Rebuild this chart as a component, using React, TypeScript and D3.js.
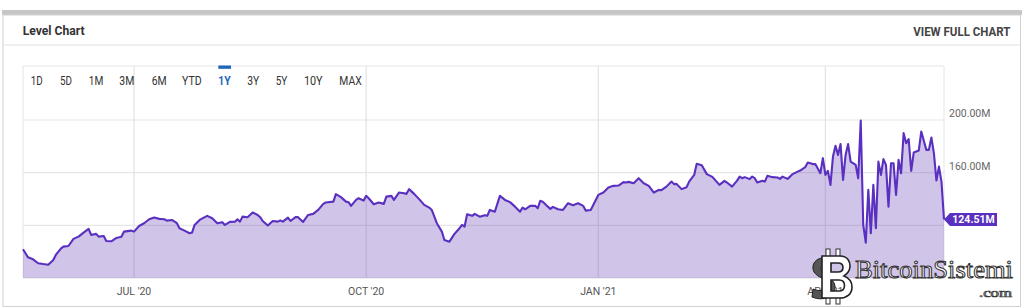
import React from "react";
import * as d3 from "d3";

const dates: string[] = [
  "2020-05-18","2020-05-20","2020-05-22","2020-05-24","2020-05-26","2020-05-28","2020-05-30","2020-05-31",
  "2020-06-02","2020-06-03","2020-06-05","2020-06-07","2020-06-09","2020-06-11","2020-06-13","2020-06-14",
  "2020-06-16","2020-06-17","2020-06-19","2020-06-20","2020-06-22","2020-06-24","2020-06-26","2020-06-27",
  "2020-06-30","2020-07-01","2020-07-03","2020-07-05","2020-07-07","2020-07-09","2020-07-11","2020-07-13",
  "2020-07-14","2020-07-16","2020-07-18","2020-07-19","2020-07-21","2020-07-23","2020-07-24","2020-07-25",
  "2020-07-27","2020-07-30","2020-08-01","2020-08-03","2020-08-05","2020-08-06","2020-08-08","2020-08-10",
  "2020-08-11","2020-08-12","2020-08-13","2020-08-15","2020-08-17","2020-08-19","2020-08-20","2020-08-21",
  "2020-08-23","2020-08-25","2020-08-27","2020-08-28","2020-08-29","2020-08-31","2020-09-01","2020-09-03",
  "2020-09-04","2020-09-06","2020-09-08","2020-09-10","2020-09-12","2020-09-14","2020-09-15","2020-09-18",
  "2020-09-19","2020-09-21","2020-09-23","2020-09-24","2020-09-25","2020-09-27","2020-09-28","2020-09-30",
  "2020-10-01","2020-10-02","2020-10-04","2020-10-06","2020-10-08","2020-10-09","2020-10-11","2020-10-12",
  "2020-10-14","2020-10-16","2020-10-17","2020-10-18","2020-10-20","2020-10-22","2020-10-24","2020-10-26",
  "2020-10-27","2020-10-29","2020-10-31","2020-11-01","2020-11-03","2020-11-05","2020-11-07","2020-11-08",
  "2020-11-09","2020-11-10","2020-11-12","2020-11-13","2020-11-15","2020-11-17","2020-11-18","2020-11-19",
  "2020-11-21","2020-11-23","2020-11-25","2020-11-27","2020-11-29","2020-12-01","2020-12-02","2020-12-03",
  "2020-12-05","2020-12-07","2020-12-08","2020-12-09","2020-12-10","2020-12-12","2020-12-13","2020-12-14",
  "2020-12-16","2020-12-18","2020-12-20","2020-12-22","2020-12-24","2020-12-26","2020-12-27","2020-12-29",
  "2020-12-30","2021-01-01","2021-01-03","2021-01-05","2021-01-07","2021-01-09","2021-01-11","2021-01-12",
  "2021-01-13","2021-01-15","2021-01-17","2021-01-19","2021-01-21","2021-01-23","2021-01-25","2021-01-26",
  "2021-01-28","2021-01-30","2021-01-31","2021-02-01","2021-02-03","2021-02-05","2021-02-06","2021-02-08",
  "2021-02-09","2021-02-11","2021-02-13","2021-02-15","2021-02-16","2021-02-18","2021-02-20","2021-02-21",
  "2021-02-23","2021-02-25","2021-02-26","2021-02-27","2021-02-28","2021-03-02","2021-03-03","2021-03-04",
  "2021-03-05","2021-03-07","2021-03-08","2021-03-09","2021-03-11","2021-03-13","2021-03-14","2021-03-15",
  "2021-03-17","2021-03-18","2021-03-19","2021-03-21","2021-03-22","2021-03-24","2021-03-25","2021-03-27",
  "2021-03-28","2021-03-30","2021-03-31","2021-04-01","2021-04-02","2021-04-03","2021-04-04","2021-04-05",
  "2021-04-06","2021-04-07","2021-04-08","2021-04-09","2021-04-10","2021-04-11","2021-04-13","2021-04-14",
  "2021-04-15","2021-04-16","2021-04-17","2021-04-18","2021-04-19","2021-04-20","2021-04-21","2021-04-22",
  "2021-04-23","2021-04-24","2021-04-25","2021-04-26","2021-04-27","2021-04-28","2021-04-29","2021-04-30",
  "2021-05-01","2021-05-02","2021-05-03","2021-05-04","2021-05-05","2021-05-06","2021-05-08","2021-05-09",
  "2021-05-10","2021-05-11","2021-05-12","2021-05-13","2021-05-14","2021-05-15","2021-05-16","2021-05-17",
  "2021-05-18",
];

const values: number[] = [
  101.8,95.7,94.2,91.2,90.6,90.1,93.7,97.5,
  102.3,103.8,104.3,109.7,111.4,114.5,117.3,112.7,
  113.5,111.4,111.9,108.1,107.9,110.4,111.4,115.2,
  116.0,115.2,119.5,121.6,124.6,125.9,124.9,124.6,
  123.6,124.1,121.6,117.8,116.0,114.0,114.5,120.3,
  124.1,127.2,125.4,121.6,122.4,120.3,122.6,122.8,
  124.6,122.8,126.6,126.2,129.7,127.9,126.2,123.3,
  119.8,123.3,122.8,123.6,122.8,125.9,123.3,126.2,
  126.2,122.6,127.9,128.7,131.7,136.3,137.3,138.0,
  143.7,141.4,138.0,137.6,134.8,139.3,140.6,138.8,
  142.4,140.6,136.0,137.3,136.3,141.8,142.4,139.3,
  144.9,144.4,143.9,147.5,143.9,139.9,135.5,133.5,
  131.7,121.6,115.2,108.9,107.6,113.5,117.8,120.3,
  119.0,128.4,127.2,128.7,126.6,127.7,127.2,131.7,
  130.4,142.4,139.3,137.6,134.2,130.4,133.5,132.2,
  134.8,134.8,133.0,138.6,138.0,134.2,132.5,134.0,
  132.2,131.7,136.8,135.3,136.8,134.8,131.2,131.7,
  135.5,143.1,144.9,148.7,150.0,150.2,152.8,152.5,
  153.0,152.0,155.8,152.0,150.0,144.9,146.9,146.7,
  149.4,153.2,151.3,151.5,147.5,149.0,153.2,158.3,
  166.7,165.7,158.9,157.0,155.1,150.7,153.8,152.5,
  149.4,154.0,157.0,155.8,156.6,155.1,157.0,155.8,
  152.5,153.8,153.2,157.6,156.6,156.3,155.3,157.0,
  155.3,157.0,158.9,160.8,161.6,164.2,167.7,166.5,
  166.5,159.6,171.0,158.3,161.4,150.7,172.2,180.4,
  173.5,181.7,154.5,173.5,181.7,168.4,165.9,155.8,
  199.6,120.3,106.8,146.9,114.0,150.7,117.8,168.4,
  158.3,170.3,165.9,134.2,167.2,167.2,143.1,169.7,
  159.6,190.0,182.4,185.5,161.4,175.3,176.8,191.3,
  184.2,177.3,177.3,186.7,174.8,154.0,164.6,153.2,
  124.51,
];

const rangeButtons: string[] = ["1D","5D","1M","3M","6M","YTD","1Y","3Y","5Y","10Y","MAX"];
const activeButton = "1Y";
const xTickDates: string[] = ["2020-07-01","2020-10-01","2021-01-01","2021-04-01"];
const xTickLabels: string[] = ["JUL '20","OCT '20","JAN '21","APR '21"];
const yGridValues: number[] = [120, 160, 200];
const yLabelValues: number[] = [160, 200];
const lastLabel = "124.51M";

const parse = d3.timeParse("%Y-%m-%d");

export default function App() {
  const data = dates.map((d, i) => ({ date: parse(d) as Date, value: values[i] }));
  const left = 23, right = 944, top = 66, bottom = 278;
  const x = d3.scaleTime()
    .domain([parse("2020-05-18") as Date, parse("2021-05-18") as Date])
    .range([left, right]);
  const y = d3.scaleLinear().domain([80, 200]).range([bottom, 120]);

  const area = d3.area<{ date: Date; value: number }>()
    .x(d => x(d.date)).y0(y(80)).y1(d => y(d.value));
  const line = d3.line<{ date: Date; value: number }>()
    .x(d => x(d.date)).y(d => y(d.value));

  const btnCenters = [36.7, 66, 96, 126.8, 159.2, 191.8, 224.5, 253.3, 281.5, 313.3, 350.5];
  const btnWidths = [12, 12, 14.6, 15, 15, 19.7, 12.4, 12, 11.6, 18.7, 22.4];

  const last = data[data.length - 1];
  const lx = x(last.date), ly = y(last.value);
  const font = "Roboto, 'Noto Sans', sans-serif";
  const purple = "#5a30c0";

  const bPath = "M822,256 H840 C848,256 850,262 850,266 C850,271 847,274 844,276 C849,278 852,282 852,287 C852,294 847,298 840,298 H822 Z " +
    "M831,263 V272 H838 C842,272 843,270 843,267.5 C843,265 842,263 838,263 Z " +
    "M831,280 V291 H839 C843,291 844.5,288.5 844.5,285.5 C844.5,282 843,280 839,280 Z";
  const sPath = "M830,258 C818,256 812,262 813,269 C814,277 826,278 828,283 C830,289 822,293 813,289 L812,297 C824,302 836,296 835,286 C834,277 822,276 821,270 C820,264 826,263 831,266 Z";

  return (
    <svg width={1024} height={308} style={{ position: "absolute", left: 0, top: 0, background: "#fff" }}
      fontFamily={font}>
      {/* card */}
      <rect x={2} y={10} width={1020} height={5} fill="#c6c6c6" />
      <rect x={3} y={15} width={1017.5} height={291.5} fill="#fff" stroke="#d2d2d2" strokeWidth={1} />
      <line x1={3} x2={1020.5} y1={45} y2={45} stroke="#e2e2e2" strokeWidth={1} />
      <text x={22.7} y={35.3} fontSize={13} fontWeight={700} fill="#333" textLength={62}
        lengthAdjust="spacingAndGlyphs">Level Chart</text>
      <text x={913.3} y={36} fontSize={13} fontWeight={700} fill="#444" textLength={97}
        lengthAdjust="spacingAndGlyphs">VIEW FULL CHART</text>

      {/* chart frame */}
      <line x1={left} x2={right} y1={top} y2={top} stroke="#e4e4e4" />
      <line x1={left} x2={left} y1={top} y2={bottom} stroke="#e4e4e4" />
      <line x1={right} x2={right} y1={top} y2={bottom} stroke="#e4e4e4" />

      {/* gridlines */}
      {yGridValues.map(v => (
        <line key={v} x1={left} x2={right} y1={y(v)} y2={y(v)} stroke="#e6e6e6" strokeWidth={1.2} />
      ))}
      {xTickDates.map(d => {
        const xx = x(parse(d) as Date);
        return <line key={d} x1={xx} x2={xx} y1={top} y2={bottom} stroke="#e2e2e2" strokeWidth={1.2} />;
      })}
      <line x1={left} x2={right} y1={bottom} y2={bottom} stroke="#e2e2e2" />

      {/* range buttons */}
      {rangeButtons.map((b, i) => (
        <text key={b} x={btnCenters[i]} y={85.3} fontSize={12} textAnchor="middle"
          fontWeight={b === activeButton ? 700 : 400}
          fill={b === activeButton ? "#1d68b8" : "#333"}
          textLength={btnWidths[i]} lengthAdjust="spacingAndGlyphs">{b}</text>
      ))}
      <rect x={218.3} y={65.5} width={12.7} height={3.3} fill="#1d68b8" />

      {/* area + line */}
      <path d={area(data) || ""} fill="rgba(103,58,183,0.3)" />
      <path d={line(data) || ""} fill="none" stroke={purple} strokeWidth={2.1} strokeLinejoin="round" />

      {/* y labels */}
      {yLabelValues.map(v => (
        <text key={v} x={949} y={y(v) - 3} fontSize={10.5} fill="#666">{v.toFixed(2) + "M"}</text>
      ))}

      {/* x labels */}
      {xTickDates.map((d, i) => (
        <text key={d} x={x(parse(d) as Date)} y={294.5} fontSize={10.5} fill="#555" textAnchor="middle">
          {xTickLabels[i]}
        </text>
      ))}

      {/* last value tag */}
      <path d={`M${lx},${ly} L${lx + 6},${ly - 6.5} L${lx + 53},${ly - 6.5} L${lx + 53},${ly + 6.5} L${lx + 6},${ly + 6.5} Z`}
        fill={purple} />
      <text x={lx + 29.5} y={ly + 4} fontSize={10.5} fontWeight={700} fill="#fff" textAnchor="middle">
        {lastLabel}
      </text>

      {/* watermark */}
      <g>
        <rect x={826} y={249} width={4} height={10} fill="#fff" stroke="#333" strokeWidth={1} />
        <rect x={836} y={249} width={4} height={10} fill="#fff" stroke="#333" strokeWidth={1} />
        <rect x={826} y={295} width={4} height={9} fill="#fff" stroke="#333" strokeWidth={1} />
        <rect x={836} y={295} width={4} height={9} fill="#fff" stroke="#333" strokeWidth={1} />
        <path d={sPath} fill="#555" stroke="#222" strokeWidth={1} />
        <path d={bPath} fill="#fff" fillRule="evenodd" stroke="#222" strokeWidth={1.6} />
        <text x={855} y={278} fontSize={25} fontFamily="'Liberation Serif', serif"
          fill="#fff" stroke="#333" strokeWidth={1} textLength={158} lengthAdjust="spacingAndGlyphs">BitcoinSistemi</text>
        <text x={979} y={297} fontSize={12} fontFamily="'Liberation Serif', serif"
          fill="#fff" stroke="#333" strokeWidth={0.7} textLength={33} lengthAdjust="spacingAndGlyphs">.com</text>
      </g>
    </svg>
  );
}
